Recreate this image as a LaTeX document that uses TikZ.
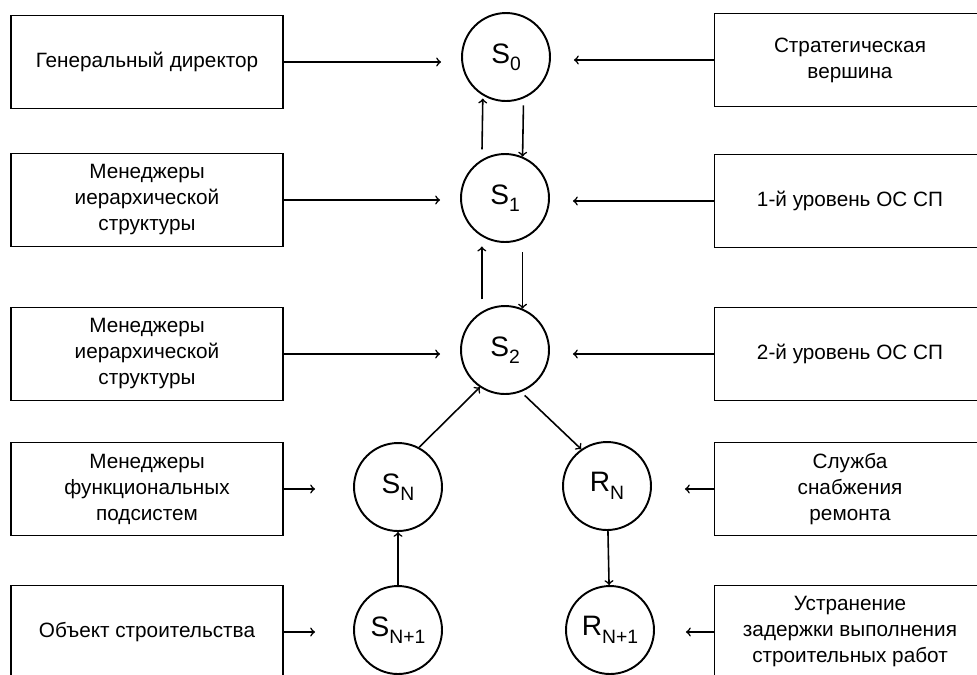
\documentclass[tikz,border=0pt]{standalone}
\usepackage{fontspec}
\setmainfont{Liberation Sans}
\usetikzlibrary{calc,arrows}

\newcommand{\lvlname}[2]{#1\raisebox{-0.5ex}{\fontsize{11}{11}\selectfont #2}}

\begin{document}
\begin{tikzpicture}[x=0.02cm,y=-0.02cm,
  box/.style={draw,line width=0.6pt,minimum width=5.44cm,minimum height=1.86cm,
    align=center,font=\fontsize{11.8}{14.8}\selectfont},
  lvl/.style={circle,draw,line width=1.1pt,minimum size=1.76cm,inner sep=0pt,
    font=\fontsize{16}{16}\selectfont},
  link/.style={->,line width=0.9pt}]
\useasboundingbox (0,0) rectangle (977,674);
\clip (0,0) rectangle (977,674);
% levels of the system
\node[lvl] (s0) at (506,57) {\lvlname{S}{0}};
\node[lvl] (s1) at (505,198) {\lvlname{S}{1}};
\node[lvl] (s2) at (505,350) {\lvlname{S}{2}};
\node[lvl] (sn) at (398,487) {\lvlname{S}{N}};
\node[lvl] (rn) at (607,486) {\lvlname{R}{N}};
\node[lvl] (sn1) at (398,630) {\lvlname{S}{N+1}};
\node[lvl] (rn1) at (610,630) {\lvlname{R}{N+1}};
% left column
\node[box] (l0) at (147,62) {Генеральный директор};
\node[box] (l1) at (147,200) {Менеджеры\\иерархической\\структуры};
\node[box] (l2) at (147,354) {Менеджеры\\иерархической\\структуры};
\node[box] (l3) at (147,489) {Менеджеры\\функциональных\\подсистем};
\node[box] (l4) at (147,632) {Объект строительства};
% right column (cut by the page edge)
\node[box] (r0) at (850,60) {Стратегическая\\вершина};
\node[box] (r1) at (850,201) {1-й уровень ОС СП};
\node[box] (r2) at (850,354) {2-й уровень ОС СП};
\node[box] (r3) at (850,489) {Служба\\снабжения\\ремонта};
\node[box] (r4) at (850,632) {Устранение\\задержки выполнения\\строительных работ};

\draw[link,shorten >=0.4cm] (l0.east) -- (l0.east -| s0.west);
\draw[link,shorten >=0.4cm] (l1.east) -- (l1.east -| s1.west);
\draw[link,shorten >=0.4cm] (l2.east) -- (l2.east -| s2.west);
\draw[link,shorten >=0.76cm] (l3.east) -- (l3.east -| sn.west);
\draw[link,shorten >=0.76cm] (l4.east) -- (l4.east -| sn1.west);
\draw[link,shorten >=0.46cm] (r0.west) -- (r0.west -| s0.east);
\draw[link,shorten >=0.46cm] (r1.west) -- (r1.west -| s1.east);
\draw[link,shorten >=0.46cm] (r2.west) -- (r2.west -| s2.east);
\draw[link,shorten >=0.66cm] (r3.west) -- (r3.west -| rn.east);
\draw[link,shorten >=0.62cm] (r4.west) -- (r4.west -| rn1.east);

% up and down between the levels
\draw[link,shorten <=0.2cm,shorten >=0.06cm] (s1.121) -- (s0.239);
\draw[link,shorten <=0.14cm] (s0.293) -- (s1.67);
\draw[link,shorten <=0.24cm,shorten >=0.2cm] (s2.121) -- (s1.239);
\draw[link,shorten <=0.26cm] (s1.293) -- (s2.67);
\draw[link] (sn.62) -- (s2.236);
\draw[link,shorten <=0.1cm] (s2.291) -- (rn.125);
\draw[link] (sn1) -- (sn);
\draw[link] (rn) -- (rn1);
\end{tikzpicture}
\end{document}
